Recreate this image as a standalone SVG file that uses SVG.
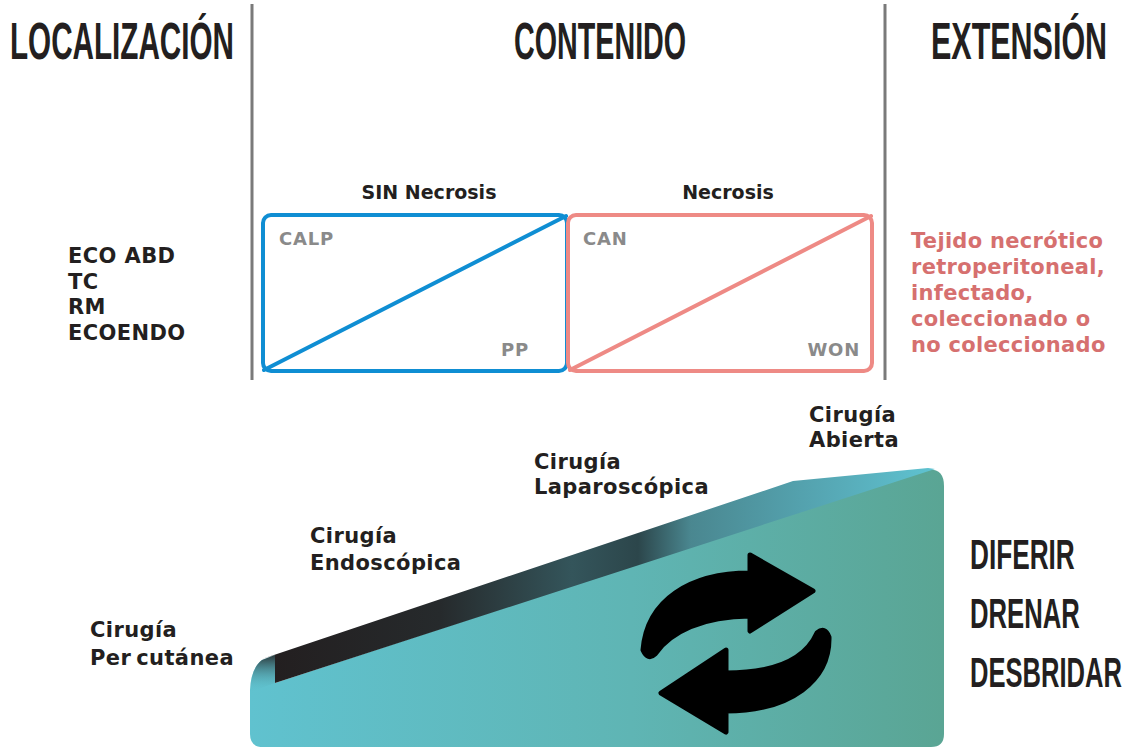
<svg xmlns="http://www.w3.org/2000/svg" width="1132" height="748" viewBox="0 0 1132 748">
  <defs>
    <style>
      .head { font-family: "Liberation Sans", Arial, sans-serif; font-weight: 700; font-size: 52px; fill: #231f20; }
      .act { font-family: "Liberation Sans", Arial, sans-serif; font-weight: 700; font-size: 42px; fill: #231f20; }
      .lbl { font-family: "DejaVu Sans", "Noto Sans", sans-serif; font-weight: 700; font-size: 21px; letter-spacing: 0.4px; fill: #231f20; }
      .sub { font-family: "DejaVu Sans", "Noto Sans", sans-serif; font-weight: 700; font-size: 19px; fill: #231f20; }
      .tag { font-family: "DejaVu Sans", "Noto Sans", sans-serif; font-weight: 700; font-size: 18px; letter-spacing: 0.8px; fill: #8a8a8a; }
      .ext { font-family: "DejaVu Sans", "Noto Sans", sans-serif; font-weight: 700; font-size: 21px; letter-spacing: 0.3px; fill: #d6706f; }
      .sep { stroke: #7a7a7a; stroke-width: 3; }
      .box { fill: none; stroke-width: 4; stroke-linejoin: round; }
    </style>
    <linearGradient id="faceGrad" gradientUnits="userSpaceOnUse" x1="250" y1="0" x2="944" y2="0">
      <stop offset="0" stop-color="#60c2cf"/>
      <stop offset="0.55" stop-color="#5fb5b4"/>
      <stop offset="1" stop-color="#5aa594"/>
    </linearGradient>
    <linearGradient id="bandGrad" gradientUnits="userSpaceOnUse" x1="275" y1="0" x2="935" y2="0">
      <stop offset="0" stop-color="#231f20"/>
      <stop offset="0.25" stop-color="#262a2c"/>
      <stop offset="0.45" stop-color="#34555b"/>
      <stop offset="0.55" stop-color="#2c464b"/>
      <stop offset="0.63" stop-color="#4a8790"/>
      <stop offset="0.85" stop-color="#57aab7"/>
      <stop offset="1" stop-color="#5fc3d1"/>
    </linearGradient>
    <linearGradient id="capGrad" x1="0" y1="0" x2="0" y2="1">
      <stop offset="0" stop-color="#2a3538"/>
      <stop offset="1" stop-color="#60c2cf" stop-opacity="0"/>
    </linearGradient>
  </defs>

  <!-- column separators -->
  <g id="separators">
    <line class="sep" x1="252" y1="4" x2="252" y2="380"/>
    <line class="sep" x1="885" y1="4" x2="885" y2="380"/>
  </g>

  <!-- column headings (condensed by horizontal scaling) -->
  <g id="headings">
    <text class="head" transform="translate(10,59) scale(0.57,1)" textLength="393" lengthAdjust="spacingAndGlyphs">LOCALIZACIÓN</text>
    <text class="head" transform="translate(514,59) scale(0.57,1)" textLength="302" lengthAdjust="spacingAndGlyphs">CONTENIDO</text>
    <text class="head" transform="translate(931,59) scale(0.57,1)" textLength="309" lengthAdjust="spacingAndGlyphs">EXTENSIÓN</text>
  </g>

  <!-- imaging methods -->
  <g id="localizacion">
    <text class="lbl" x="68" y="263">ECO ABD</text>
    <text class="lbl" x="68" y="289">TC</text>
    <text class="lbl" x="68" y="314">RM</text>
    <text class="lbl" x="68" y="340">ECOENDO</text>
  </g>

  <!-- content: without necrosis -->
  <g id="sin-necrosis">
    <text class="sub" x="429" y="199" text-anchor="middle">SIN Necrosis</text>
    <rect class="box" x="263" y="215" width="304" height="156" rx="8" stroke="#0f8ed3"/>
    <line x1="264" y1="370" x2="566" y2="216" stroke="#0f8ed3" stroke-width="4" stroke-linecap="round"/>
    <text class="tag" x="279" y="245">CALP</text>
    <text class="tag" x="529" y="356" text-anchor="end">PP</text>
  </g>

  <!-- content: necrosis -->
  <g id="necrosis">
    <text class="sub" x="728" y="199" text-anchor="middle">Necrosis</text>
    <rect class="box" x="568" y="215" width="304" height="156" rx="8" stroke="#ee8a85"/>
    <line x1="570" y1="370" x2="871" y2="216" stroke="#ee8a85" stroke-width="4" stroke-linecap="round"/>
    <text class="tag" x="583" y="245">CAN</text>
    <text class="tag" x="860" y="356" text-anchor="end">WON</text>
  </g>

  <!-- extension description -->
  <g id="extension">
    <text class="ext" x="911" y="248">Tejido necrótico</text>
    <text class="ext" x="911" y="274">retroperitoneal,</text>
    <text class="ext" x="911" y="300">infectado,</text>
    <text class="ext" x="911" y="326">coleccionado o</text>
    <text class="ext" x="911" y="352">no coleccionado</text>
  </g>

  <!-- treatment ramp -->
  <g id="ramp">
    <path d="M275,683 L925,470 Q944,467 944,486 L944,734 Q944,747 931,747 L263,747 Q250,747 250,734 L250,690 Q251,668 262,660 L275,655 Z" fill="url(#faceGrad)"/>
    <path d="M250,692 Q251,668 262,660 L275,655 L275,683 L250,692 Z" fill="url(#capGrad)"/>
    <path d="M275,655 L262,659 L793,481 L928,468 L935,469 L275,683 Z" fill="url(#bandGrad)"/>
  </g>

  <!-- cycle arrows -->
  <g id="cycle" fill="#000" stroke="#000" stroke-width="5" stroke-linejoin="round">
    <path d="M750,573 L750,555 L813,591 L750,631 L750,616 C703,616 670,632 655,654 Q648,661 643,650 C647,600 690,573 750,573 Z"/>
    <path d="M726,673 L726,650 L661,693 L726,732 L726,711 C791,711 830,680 829,637 Q825,626 817,633 C805,660 775,673 726,673 Z"/>
  </g>

  <!-- surgical approaches -->
  <g id="approaches">
    <text class="lbl" x="90" y="637">Cirugía</text>
    <text class="lbl" x="90" y="665">Per<tspan dx="5">cutánea</tspan></text>
    <text class="lbl" x="310" y="543">Cirugía</text>
    <text class="lbl" x="310" y="570">Endoscópica</text>
    <text class="lbl" x="534" y="469">Cirugía</text>
    <text class="lbl" x="534" y="494">Laparoscópica</text>
    <text class="lbl" x="809" y="422">Cirugía</text>
    <text class="lbl" x="809" y="447">Abierta</text>
  </g>

  <!-- actions (condensed by horizontal scaling) -->
  <g id="actions">
    <text class="act" transform="translate(970,569) scale(0.62,1)" textLength="169" lengthAdjust="spacingAndGlyphs">DIFERIR</text>
    <text class="act" transform="translate(970,628) scale(0.62,1)" textLength="177" lengthAdjust="spacingAndGlyphs">DRENAR</text>
    <text class="act" transform="translate(970,687) scale(0.62,1)" textLength="245" lengthAdjust="spacingAndGlyphs">DESBRIDAR</text>
  </g>
</svg>
